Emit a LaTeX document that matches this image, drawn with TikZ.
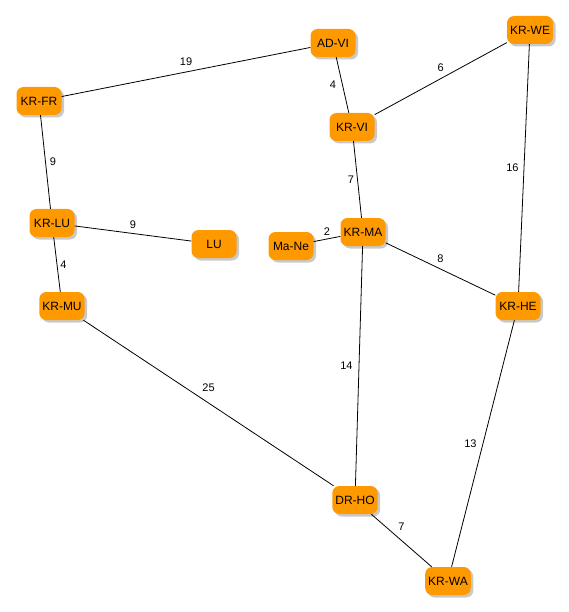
\documentclass[tikz,border=0pt]{standalone}
\usepackage{fontspec}
\setmainfont{Liberation Sans}
\usetikzlibrary{shadows}
\definecolor{nodeorange}{HTML}{FF9900}
\begin{document}
\begin{tikzpicture}[x=1pt,y=-1pt,
  city/.style={fill=nodeorange, rounded corners=7pt, minimum width=45pt, minimum height=28pt,
    inner sep=3pt, font=\fontsize{12}{14}\selectfont,
    drop shadow={shadow xshift=2.5pt, shadow yshift=-2.5pt, opacity=0.35, fill=black!60}},
  road/.style={draw=black, line width=0.8pt},
  dist/.style={font=\fontsize{11}{13}\selectfont, inner sep=2pt}]
\useasboundingbox (0,0) rectangle (569,612);
\fill[white] (0,0) rectangle (569,612);

\node[city] (ADVI) at (333,43) {AD-VI};
\node[city] (KRWE) at (530,30) {KR-WE};
\node[city] (KRFR) at (39,101) {KR-FR};
\node[city] (KRVI) at (352,127) {KR-VI};
\node[city] (KRLU) at (52,223) {KR-LU};
\node[city] (LU) at (214,244) {LU};
\node[city] (MaNe) at (291,246) {Ma-Ne};
\node[city] (KRMA) at (363,232) {KR-MA};
\node[city] (KRMU) at (62,306) {KR-MU};
\node[city] (KRHE) at (518,306) {KR-HE};
\node[city] (DRHO) at (355,500) {DR-HO};
\node[city] (KRWA) at (448,581) {KR-WA};

\draw[road] (ADVI) -- node[dist, above=4pt] {19} (KRFR);
\draw[road] (ADVI) -- node[dist, left=4pt] {4} (KRVI);
\draw[road] (KRWE) -- node[dist, above=5pt] {6} (KRVI);
\draw[road] (KRFR) -- node[dist, right=2pt] {9} (KRLU);
\draw[road] (KRVI) -- node[dist, left=1pt] {7} (KRMA);
\draw[road] (KRWE) -- node[dist, left=3pt] {16} (KRHE);
\draw[road] (KRLU) -- node[dist, above=2pt] {9} (LU);
\draw[road] (MaNe) -- node[dist, above=1pt] {2} (KRMA);
\draw[road] (KRMA) -- node[dist, above=4pt] {8} (KRHE);
\draw[road] (KRLU) -- node[dist, right=1pt] {4} (KRMU);
\draw[road] (KRMU) -- node[dist, above=9pt] {25} (DRHO);
\draw[road] (KRMA) -- node[dist, left=4pt] {14} (DRHO);
\draw[road] (KRHE) -- node[dist, left=4pt] {13} (KRWA);
\draw[road] (DRHO) -- node[dist, above=8pt] {7} (KRWA);
\end{tikzpicture}
\end{document}
